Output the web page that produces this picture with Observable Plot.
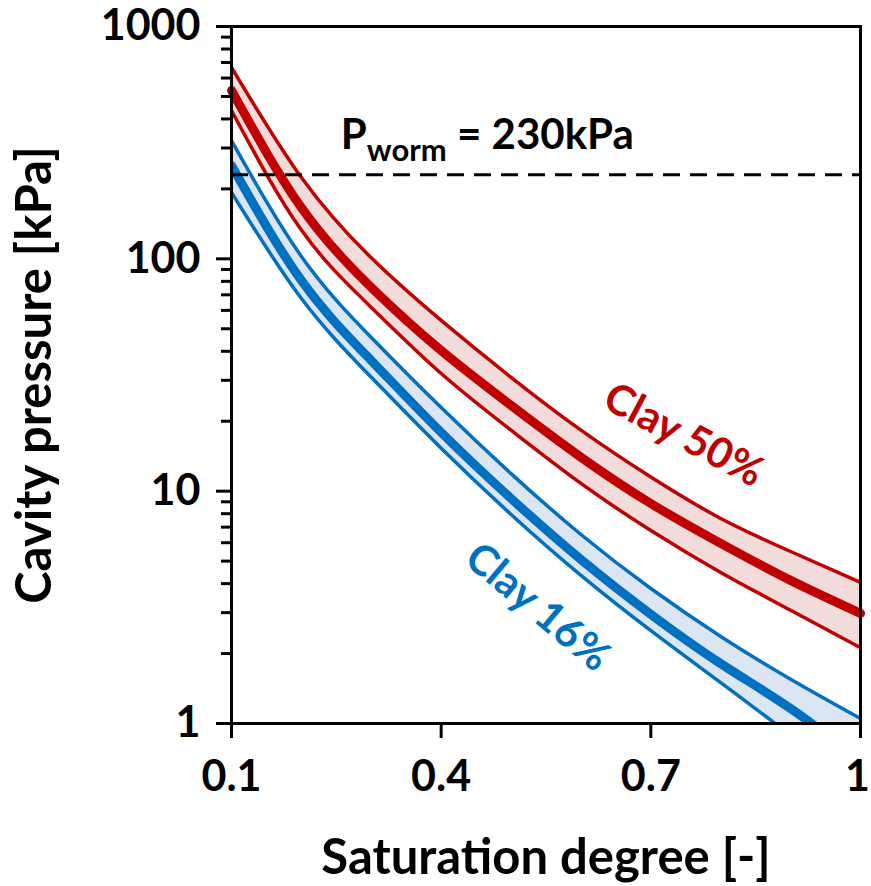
<!DOCTYPE html>
<html>
<head>
<meta charset="utf-8">
<script src="https://cdn.jsdelivr.net/npm/d3@7"></script>
<script src="https://cdn.jsdelivr.net/npm/@observablehq/plot@0.6"></script>
<style>
  html, body { margin: 0; padding: 0; background: #fff; }
  #chart svg { display: block; overflow: visible; }
</style>
</head>
<body>
<div id="chart"></div>
<script>
// ---- Data ----
const satDegree   = [0.1, 0.2, 0.3, 0.4, 0.5, 0.6, 0.7, 0.8, 0.9, 1.0];
const clay50Upper = [667, 224, 101, 54.3, 30.9, 18.3, 11.5, 7.63, 5.50, 4.05];
const clay50Mid   = [531, 166, 75.3, 40.3, 23.4, 14.0, 8.85, 5.96, 4.13, 2.98];
const clay50Lower = [435, 133, 61.8, 32.1, 18.3, 10.8, 6.77, 4.47, 3.07, 2.12];
const clay16Upper = [323, 102.4, 45.9, 22.9, 11.9, 6.51, 3.81, 2.37, 1.55, 1.05];
const clay16Mid   = [252, 80.7, 36.5, 17.9, 9.30, 5.08, 2.95, 1.81, 1.16, 0.69];
const clay16Lower = [193, 67.5, 30.9, 15.3, 7.94, 4.34, 2.51, 1.50, 0.888, 0.515];

const pWorm = 230;
const xTicks = [0.1, 0.4, 0.7, 1];
const yTicks = [1, 10, 100, 1000];
const yMinorTicks = [2, 3, 4, 5, 6, 7, 8, 9, 20, 30, 40, 50, 60, 70, 80, 90, 200, 300, 400, 500, 600, 700, 800, 900];
const xTitle = "Saturation degree [-]";
const yTitle = "Cavity pressure [kPa]";
const seriesLabels = [
  {name: "Clay 50%", x: 0.747, y: 17.4, rotate: 28, color: "#c00000"},
  {name: "Clay 16%", x: 0.538, y: 3.16, rotate: 40, color: "#0070c0"}
];
const pWormLabel = {x: 0.466, y: 340, text: "Pworm = 230kPa"};

const red = "#c00000", blue = "#0070c0";
const redFill = "#f2dcdb", blueFill = "#dce6f2";

const rows = satDegree.map((s, i) => ({
  s,
  r50u: clay50Upper[i], r50m: clay50Mid[i], r50l: clay50Lower[i],
  c16u: clay16Upper[i], c16m: clay16Mid[i], c16l: clay16Lower[i]
}));

const curve = "natural";

const chart = Plot.plot({
  width: 871,
  height: 886,
  marginLeft: 231,
  marginRight: 11,
  marginTop: 26,
  marginBottom: 163,
  style: {fontFamily: "Lato, 'Open Sans', sans-serif", fontWeight: "bold", color: "black", background: "white", overflow: "visible"},
  x: {domain: [0.1, 1], axis: null},
  y: {type: "log", domain: [1, 1000], axis: null},
  marks: [
    Plot.areaY(rows, {x: "s", y1: "r50l", y2: "r50u", fill: redFill, curve, clip: true}),
    Plot.areaY(rows, {x: "s", y1: "c16l", y2: "c16u", fill: blueFill, curve, clip: true}),
    Plot.line(rows, {x: "s", y: "r50u", stroke: red, strokeWidth: 3.5, curve, clip: true}),
    Plot.line(rows, {x: "s", y: "r50l", stroke: red, strokeWidth: 3.5, curve, clip: true}),
    Plot.line(rows, {x: "s", y: "r50m", stroke: red, strokeWidth: 9, strokeLinecap: "round", curve}),
    Plot.line(rows, {x: "s", y: "c16u", stroke: blue, strokeWidth: 3.5, curve, clip: true}),
    Plot.line(rows, {x: "s", y: "c16l", stroke: blue, strokeWidth: 3.5, curve, clip: true}),
    Plot.line(rows, {x: "s", y: "c16m", stroke: blue, strokeWidth: 9, strokeLinecap: "round", curve, clip: true}),
    Plot.ruleY([pWorm], {x1: 0.1, x2: 1, stroke: "black", strokeWidth: 3, strokeDasharray: "17,10"}),
    Plot.frame({stroke: "black", strokeWidth: 3}),
    Plot.axisY(yMinorTicks, {tickSize: 10, tickFormat: () => "", label: null, strokeWidth: 3}),
    Plot.axisY(yTicks, {tickSize: 15, tickPadding: 16, fontSize: 43, tickFormat: d => String(d), label: null, strokeWidth: 3}),
    Plot.axisX(xTicks, {tickSize: 15, tickPadding: 22, fontSize: 43, tickFormat: d => String(d), label: null, strokeWidth: 3}),
    Plot.text([xTitle], {frameAnchor: "bottom", dy: 135, lineAnchor: "middle", textAnchor: "middle", fontSize: 49, fill: "black"}),
    Plot.text([yTitle], {frameAnchor: "left", dx: -196, rotate: -90, lineAnchor: "middle", textAnchor: "middle", fontSize: 49, fill: "black"}),
    Plot.text(seriesLabels, {x: "x", y: "y", text: "name", rotate: "rotate", fill: "color", fontSize: 42, lineAnchor: "middle"}),
    Plot.text([pWormLabel], {x: "x", y: "y", text: "text", fontSize: 42, fill: "black", lineAnchor: "middle"})
  ]
});

// subscript for P_worm
d3.select(chart).selectAll("text").filter(function() { return this.textContent === pWormLabel.text; })
  .each(function() {
    const t = d3.select(this);
    t.text(null);
    t.append("tspan").text("P");
    t.append("tspan").attr("font-size", 31).attr("dy", 12).text("worm");
    t.append("tspan").attr("dy", -12).text(" = 230kPa");
  });

// keep the last x tick label inside the page edge
d3.select(chart).selectAll("text").filter(function() {
  return this.textContent === "1" && +this.getAttribute("y") > 700 || (this.textContent === "1" && this.getAttribute("transform") && /translate\(\s*8[0-9]{2}/.test(this.getAttribute("transform")));
}).attr("dx", -3);

document.getElementById("chart").appendChild(chart);
</script>
</body>
</html>
